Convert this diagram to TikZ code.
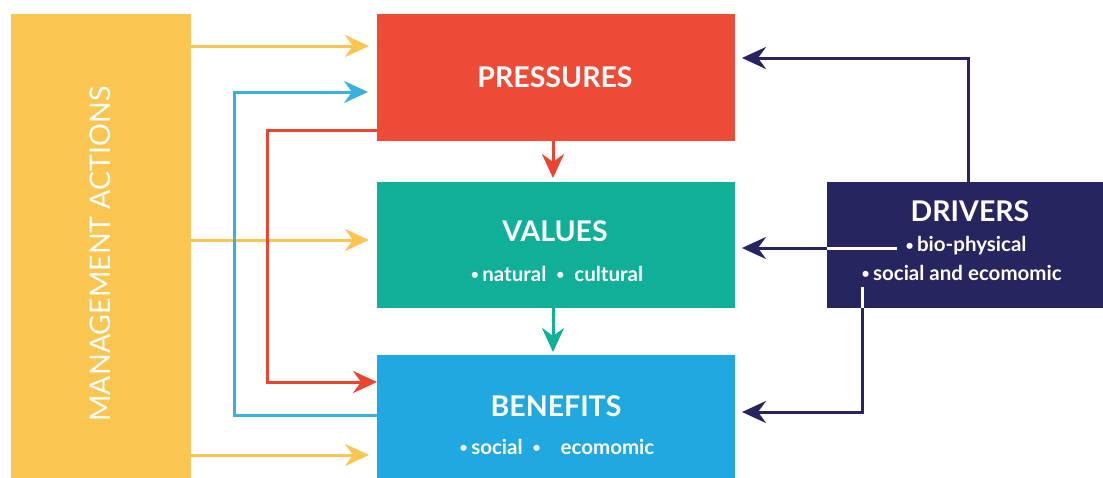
\documentclass[tikz,border=0pt]{standalone}
\usepackage{fontspec}
\setmainfont{Lato}
\usetikzlibrary{arrows.meta}
\definecolor{myyellow}{HTML}{FAC551}
\definecolor{myred}{HTML}{EE4B37}
\definecolor{mygreen}{HTML}{10AF97}
\definecolor{myblue}{HTML}{20A9E0}
\definecolor{mynavy}{HTML}{272560}
\definecolor{mylblue}{HTML}{3AB0DE}
\definecolor{myredline}{HTML}{E9452F}
\newcommand{\smbul}{\raisebox{1.6pt}{\fontsize{14}{14}\selectfont\textbullet}}
\begin{document}
\begin{tikzpicture}[x=1pt,y=-1pt,
  box/.style={inner sep=0pt, outer sep=0pt, draw=none},
  title/.style={text=white, font=\fontsize{28.5}{32}\selectfont\bfseries},
  sub/.style={text=white, font=\fontsize{20.5}{24}\selectfont\bfseries},
  conn/.style={line width=3pt, -{Stealth[length=24pt,width=22pt,inset=8pt]}},
  plain/.style={line width=3pt}
]
\useasboundingbox (0,0) rectangle (1103,477);
\clip (0,0) rectangle (1103,477);
\fill[white] (0,0) rectangle (1103,477);

% boxes
\node[box, fill=myyellow, minimum width=180pt, minimum height=476pt] (mgmt) at (101,252) {};
\node[box, fill=myred, minimum width=358pt, minimum height=127pt] (pres) at (556,77.5) {};
\node[box, fill=mygreen, minimum width=358pt, minimum height=126pt] (vals) at (556,245) {};
\node[box, fill=myblue, minimum width=358pt, minimum height=135pt] (bene) at (556,422.5) {};
\node[box, fill=mynavy, minimum width=283pt, minimum height=126pt] (driv) at (968.5,245) {};

% labels
\node[rotate=90, text=white, font=\fontsize{28.5}{32}\selectfont] (mgmtlabel) at (100,254) {MANAGEMENT ACTIONS};
\node[title] (prest) at (555,77) {PRESSURES};
\node[title] (valst) at (555,231) {VALUES};
\node[sub] (valss) at (557,274) {\smbul\,natural\ \ \smbul\ \ cultural};
\node[title] (benet) at (556,406) {BENEFITS};
\node[sub] (beness) at (557,447) {\smbul\,social\ \ \smbul\ \ \ \ ecomomic};
\node[title] (drivt) at (970,211) {DRIVERS};
\node[sub, anchor=west] (drivb) at (902,246) {\smbul\,bio-physical};
\node[sub, anchor=west] (drivs) at (858,273) {\smbul\,social and ecomomic};

% named points
\coordinate (p1) at ([yshift=31.5pt]pres.west);
\coordinate (v1) at ([yshift=5pt]vals.west);
\coordinate (b1) at ([yshift=-32.5pt]bene.west);
\coordinate (bl) at ([yshift=7.5pt]bene.west);
\coordinate (pl) at ([yshift=-14.5pt]pres.west);
\coordinate (pr) at ([yshift=-52.5pt]pres.west);
\coordinate (br) at ([yshift=40.5pt]bene.west);
\coordinate (blx) at (234,0);
\coordinate (rx) at (267,0);
\coordinate (ptop) at ([yshift=19.5pt]pres.east);
\coordinate (vr) at ([yshift=-3pt]vals.east);
\coordinate (bn) at ([yshift=10.5pt]bene.east);
\coordinate (dbio) at (897,248);
\coordinate (dsoc) at (862,287);

% management arrows
\draw[conn, myyellow] (mgmt.east |- p1) -- ([xshift=-8pt]p1);
\draw[conn, myyellow] (mgmt.east |- v1) -- ([xshift=-8pt]v1);
\draw[conn, myyellow] (mgmt.east |- b1) -- ([xshift=-8pt]b1);

% feedback benefits -> pressures
\draw[conn, mylblue] (bl) -- (blx |- bl) -- (blx |- pl) -- ([xshift=-9pt]pl);
% pressures -> benefits
\draw[conn, myredline] (pr) -- (rx |- pr) -- (rx |- br) -- (br);

% vertical chain
\draw[conn, myredline] ([xshift=-3pt]pres.south) -- ([xshift=-3pt,yshift=4pt]vals.north);
\draw[conn, mygreen] ([xshift=-3pt]vals.south) -- ([xshift=-3pt,yshift=3pt]bene.north);

% drivers arrows
\draw[conn, mynavy] (driv.north) -- (driv.north |- ptop) -- ([xshift=7pt]ptop);
\draw[plain, white] (dbio) -- (driv.west |- dbio);
\draw[conn, mynavy] (driv.west |- dbio) -- ([xshift=7pt]vr);
\draw[plain, white] (dsoc) -- (dsoc |- driv.south);
\draw[conn, mynavy] (dsoc |- driv.south) -- (dsoc |- bn) -- ([xshift=7pt]bn);
\end{tikzpicture}
\end{document}
